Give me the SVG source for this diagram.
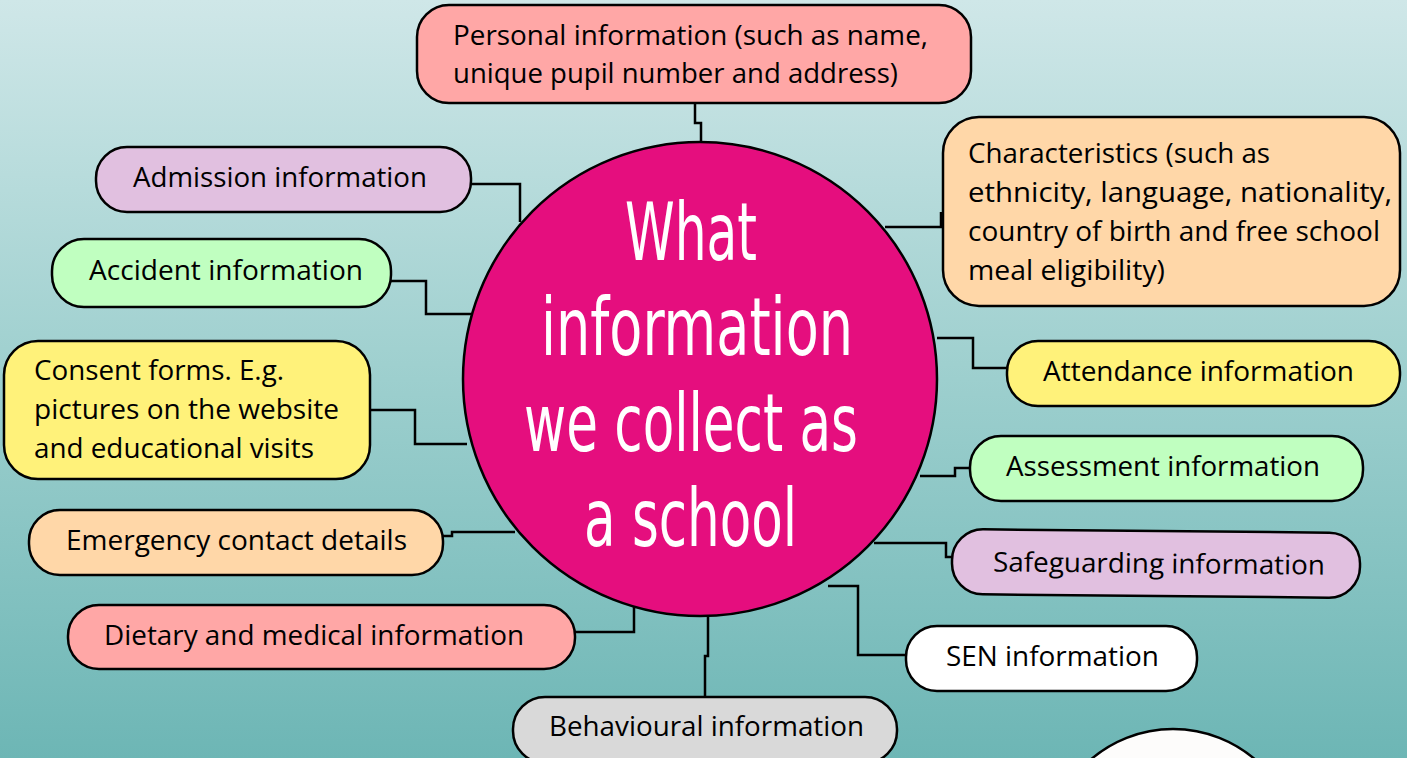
<svg xmlns="http://www.w3.org/2000/svg" width="1407" height="758" viewBox="0 0 1407 758">
<defs>
<linearGradient id="bg" x1="0" y1="0" x2="0" y2="1">
<stop offset="0" stop-color="#cfe7e8"/>
<stop offset="0.5" stop-color="#9dcfce"/>
<stop offset="1" stop-color="#6db6b5"/>
</linearGradient>
<style>
.box{stroke:#000;stroke-width:2.5}
.t{font-family:"Open Sans","Noto Sans","Liberation Sans",sans-serif;font-size:27px;fill:#000}
.c{font-family:"DejaVu Sans Condensed","Liberation Sans Narrow","DejaVu Sans",sans-serif;font-size:80px;fill:#fff;font-stretch:condensed}
.ln{fill:none;stroke:#000;stroke-width:2.5}
.pink{fill:#ffa7a6}.purple{fill:#e1c0e0}.peach{fill:#ffd7a8}.green{fill:#c0ffc0}.yellow{fill:#fff27a}.grey{fill:#d9d9d9}.white{fill:#fff}
</style>
</defs>
<rect x="0" y="0" width="1407" height="758" fill="url(#bg)"/>

<g id="connectors">
<polyline class="ln" points="695,103 695,123 701,123 701,143"/>
<polyline class="ln" points="471,184 520,184 520,222"/>
<polyline class="ln" points="885,227 941,227 941,212"/>
<polyline class="ln" points="391,281 426,281 426,314 471,314"/>
<polyline class="ln" points="370,410 415,410 415,444 467,444"/>
<polyline class="ln" points="443,536 452,536 452,532 515,532"/>
<polyline class="ln" points="575,632 634,632 634,606"/>
<polyline class="ln" points="708,616 708,656 705,656 705,697"/>
<polyline class="ln" points="828,586 858,586 858,655 906,655"/>
<polyline class="ln" points="874,543 946,543 946,557 953,557"/>
<polyline class="ln" points="920,476 955,476 955,468 970,468"/>
<polyline class="ln" points="937,338 973,338 973,368 1007,368"/>
</g>

<g id="white-circle">
<circle cx="1173" cy="855" r="126" fill="#fdfcfb" stroke="#000" stroke-width="2.5"/>
</g>

<g id="center">
<circle cx="700" cy="379" r="237" fill="#e50e7e" stroke="#000" stroke-width="2.5"/>
<text class="c" x="625" y="260" textLength="132" lengthAdjust="spacingAndGlyphs">What</text>
<text class="c" x="541" y="355" textLength="312" lengthAdjust="spacingAndGlyphs">information</text>
<text class="c" x="524" y="451" textLength="334" lengthAdjust="spacingAndGlyphs">we collect as</text>
<text class="c" x="584" y="546" textLength="213" lengthAdjust="spacingAndGlyphs">a school</text>
</g>

<g id="personal">
<rect class="box pink" x="417" y="5" width="554" height="98" rx="32"/>
<text class="t" x="453" y="45" textLength="475" lengthAdjust="spacingAndGlyphs">Personal information (such as name,</text>
<text class="t" x="453" y="83" textLength="445" lengthAdjust="spacingAndGlyphs">unique pupil number and address)</text>
</g>

<g id="admission">
<rect class="box purple" x="96" y="147" width="375" height="65" rx="31"/>
<text class="t" x="133" y="187" textLength="294" lengthAdjust="spacingAndGlyphs">Admission information</text>
</g>

<g id="characteristics">
<rect class="box peach" x="943" y="117" width="457" height="189" rx="36"/>
<text class="t" x="968" y="163" textLength="302" lengthAdjust="spacingAndGlyphs">Characteristics (such as</text>
<text class="t" x="968" y="202" textLength="424" lengthAdjust="spacingAndGlyphs">ethnicity, language, nationality,</text>
<text class="t" x="968" y="241" textLength="412" lengthAdjust="spacingAndGlyphs">country of birth and free school</text>
<text class="t" x="968" y="280" textLength="197" lengthAdjust="spacingAndGlyphs">meal eligibility)</text>
</g>

<g id="accident">
<rect class="box green" x="52" y="239" width="339" height="68" rx="32"/>
<text class="t" x="89" y="280" textLength="274" lengthAdjust="spacingAndGlyphs">Accident information</text>
</g>

<g id="consent">
<rect class="box yellow" x="4" y="341" width="366" height="138" rx="34"/>
<text class="t" x="34" y="380" textLength="250" lengthAdjust="spacingAndGlyphs">Consent forms. E.g.</text>
<text class="t" x="34" y="419" textLength="305" lengthAdjust="spacingAndGlyphs">pictures on the website</text>
<text class="t" x="34" y="458" textLength="280" lengthAdjust="spacingAndGlyphs">and educational visits</text>
</g>

<g id="emergency">
<rect class="box peach" x="29" y="510" width="414" height="65" rx="31"/>
<text class="t" x="66" y="550" textLength="341" lengthAdjust="spacingAndGlyphs">Emergency contact details</text>
</g>

<g id="dietary">
<rect class="box pink" x="68" y="605" width="507" height="64" rx="31"/>
<text class="t" x="104" y="645" textLength="420" lengthAdjust="spacingAndGlyphs">Dietary and medical information</text>
</g>

<g id="behavioural">
<rect class="box grey" x="513" y="697" width="384" height="66" rx="32"/>
<text class="t" x="549" y="736" textLength="315" lengthAdjust="spacingAndGlyphs">Behavioural information</text>
</g>

<g id="sen">
<rect class="box white" x="906" y="626" width="291" height="65" rx="31"/>
<text class="t" x="946" y="666" textLength="213" lengthAdjust="spacingAndGlyphs">SEN information</text>
</g>

<g id="safeguarding" transform="rotate(0.55 1156 564)">
<rect class="box purple" x="952" y="531" width="408" height="65" rx="31"/>
<text class="t" x="993" y="573" textLength="332" lengthAdjust="spacingAndGlyphs">Safeguarding information</text>
</g>

<g id="assessment">
<rect class="box green" x="970" y="436" width="393" height="65" rx="31"/>
<text class="t" x="1006" y="476" textLength="314" lengthAdjust="spacingAndGlyphs">Assessment information</text>
</g>

<g id="attendance">
<rect class="box yellow" x="1007" y="341" width="393" height="65" rx="31"/>
<text class="t" x="1043" y="381" textLength="311" lengthAdjust="spacingAndGlyphs">Attendance information</text>
</g>
</svg>
